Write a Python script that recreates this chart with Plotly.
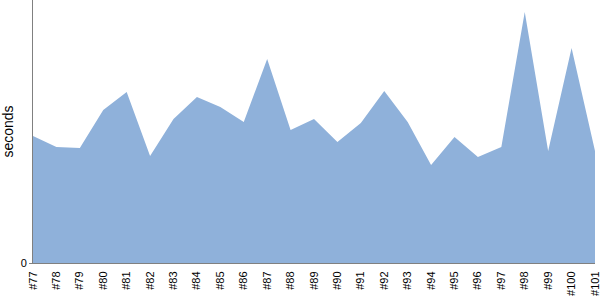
import plotly.graph_objects as go

builds = ["#77", "#78", "#79", "#80", "#81", "#82", "#83", "#84", "#85", "#86",
          "#87", "#88", "#89", "#90", "#91", "#92", "#93", "#94", "#95", "#96",
          "#97", "#98", "#99", "#100", "#101"]
seconds = [12.7, 11.6, 11.5, 15.3, 17.1, 10.7, 14.4, 16.6, 15.6, 14.1,
           20.4, 13.3, 14.4, 12.1, 14.0, 17.2, 14.1, 9.8, 12.6, 10.6,
           11.6, 25.1, 11.2, 21.5, 11.2]

fig = go.Figure(go.Scatter(
    x=builds, y=seconds, mode="lines", fill="tozeroy",
    line=dict(width=0, color="#8FB1DA"), fillcolor="#8FB1DA",
    hoverinfo="skip",
))

axis_color = "#808080"
fig.update_layout(
    width=600, height=300,
    margin=dict(l=33, r=5, t=0, b=37, pad=0),
    paper_bgcolor="white", plot_bgcolor="white",
    showlegend=False,
    font=dict(family="Liberation Sans", color="black"),
    xaxis=dict(
        type="category", range=[0, len(builds) - 1],
        showline=True, linecolor=axis_color, linewidth=1,
        showgrid=False, zeroline=False, ticks="outside", ticklen=3,
        tickcolor="rgba(0,0,0,0)",
        tickangle=-90, tickfont=dict(size=11, family="Liberation Sans"),
    ),
    yaxis=dict(
        range=[0, 26.3], tickvals=[0], ticktext=["0"],
        showline=True, linecolor=axis_color, linewidth=1,
        showgrid=False, zeroline=False,
        ticks="outside", ticklen=3, tickcolor=axis_color,
        tickfont=dict(size=11, family="Liberation Sans"),
        title=dict(text="seconds", font=dict(size=14, family="Liberation Sans"), standoff=9),
    ),
)

fig.write_html("out.html")
